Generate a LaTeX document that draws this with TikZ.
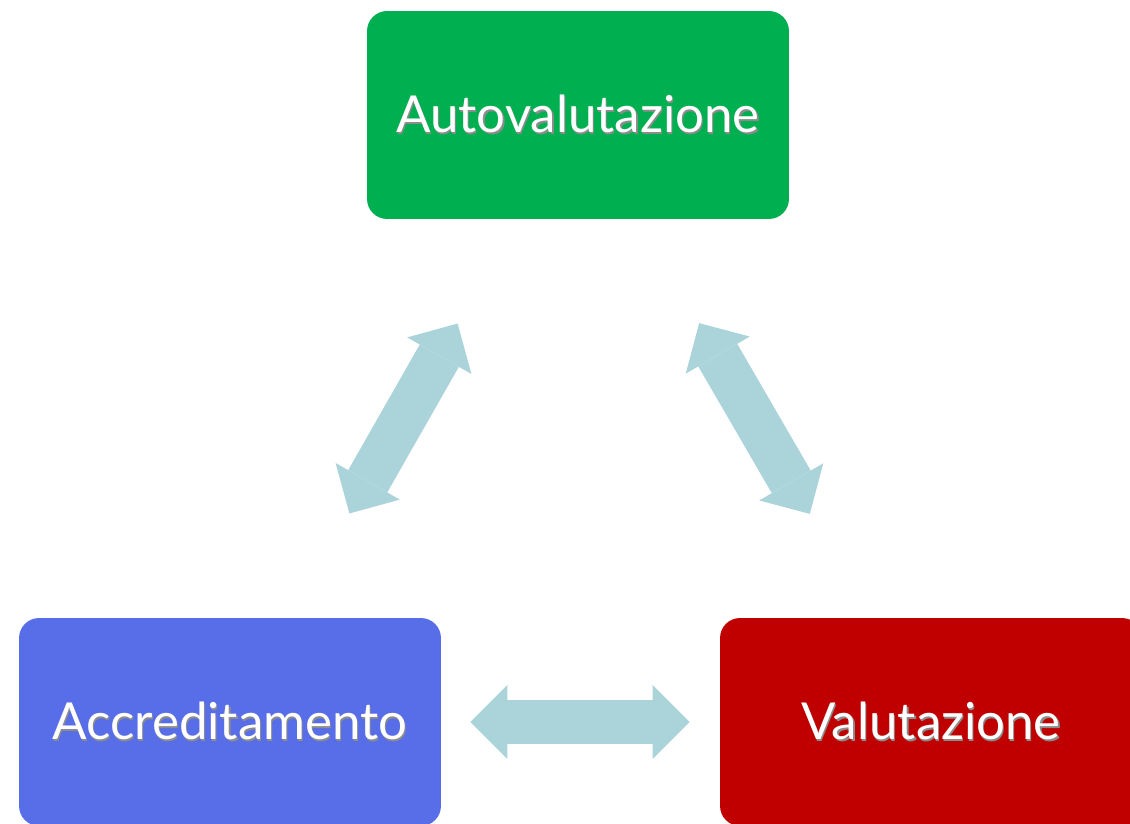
\documentclass[tikz,border=0pt]{standalone}
\usepackage{fontspec}
\setmainfont{Lato}
\usepackage{tikz}
\usetikzlibrary{arrows.meta}
\definecolor{autogreen}{HTML}{00AF50}
\definecolor{accrblue}{HTML}{586EE8}
\definecolor{valred}{HTML}{C00000}
\definecolor{flowblue}{HTML}{ABD3DA}
\newcommand\shtext[1]{\makebox[0pt][l]{\kern0.7pt\raisebox{-1pt}{\textcolor{black!45}{#1}}}#1}
\tikzset{
  box/.style={rounded corners=0.4cm, minimum width=8.44cm, minimum height=4.16cm,
    inner sep=0pt, text=white, font=\fontsize{29}{34}\selectfont},
  flow/.style={draw=flowblue, line width=0.9cm,
    {Triangle[length=0.74cm,width=1.48cm,line width=0pt]}-{Triangle[length=0.74cm,width=1.48cm,line width=0pt]}}
}
\begin{document}
\begin{tikzpicture}[x=0.02cm, y=-0.02cm]
\useasboundingbox (0,0) rectangle (1130,824);
\node [box, fill=autogreen] (auto) at (578,115) {\shtext{Autovalutazione}};
\node [box, fill=accrblue] (accr) at (230,722) {\shtext{Accreditamento}};
\node [box, fill=valred] (valu) at (931,722) {\shtext{Valutazione}};
\draw [flow, shorten <=0.58cm, shorten >=0.6cm] (accr.east) -- (valu.west);
\draw [flow, shorten <=2.4cm, shorten >=2.4cm] ([xshift=-1.22cm]auto.south) -- ([xshift=1.2cm]accr.north);
\draw [flow, shorten <=2.4cm, shorten >=2.4cm] ([xshift=1.22cm]auto.south) -- ([xshift=-1.22cm]valu.north);
\end{tikzpicture}
\end{document}
